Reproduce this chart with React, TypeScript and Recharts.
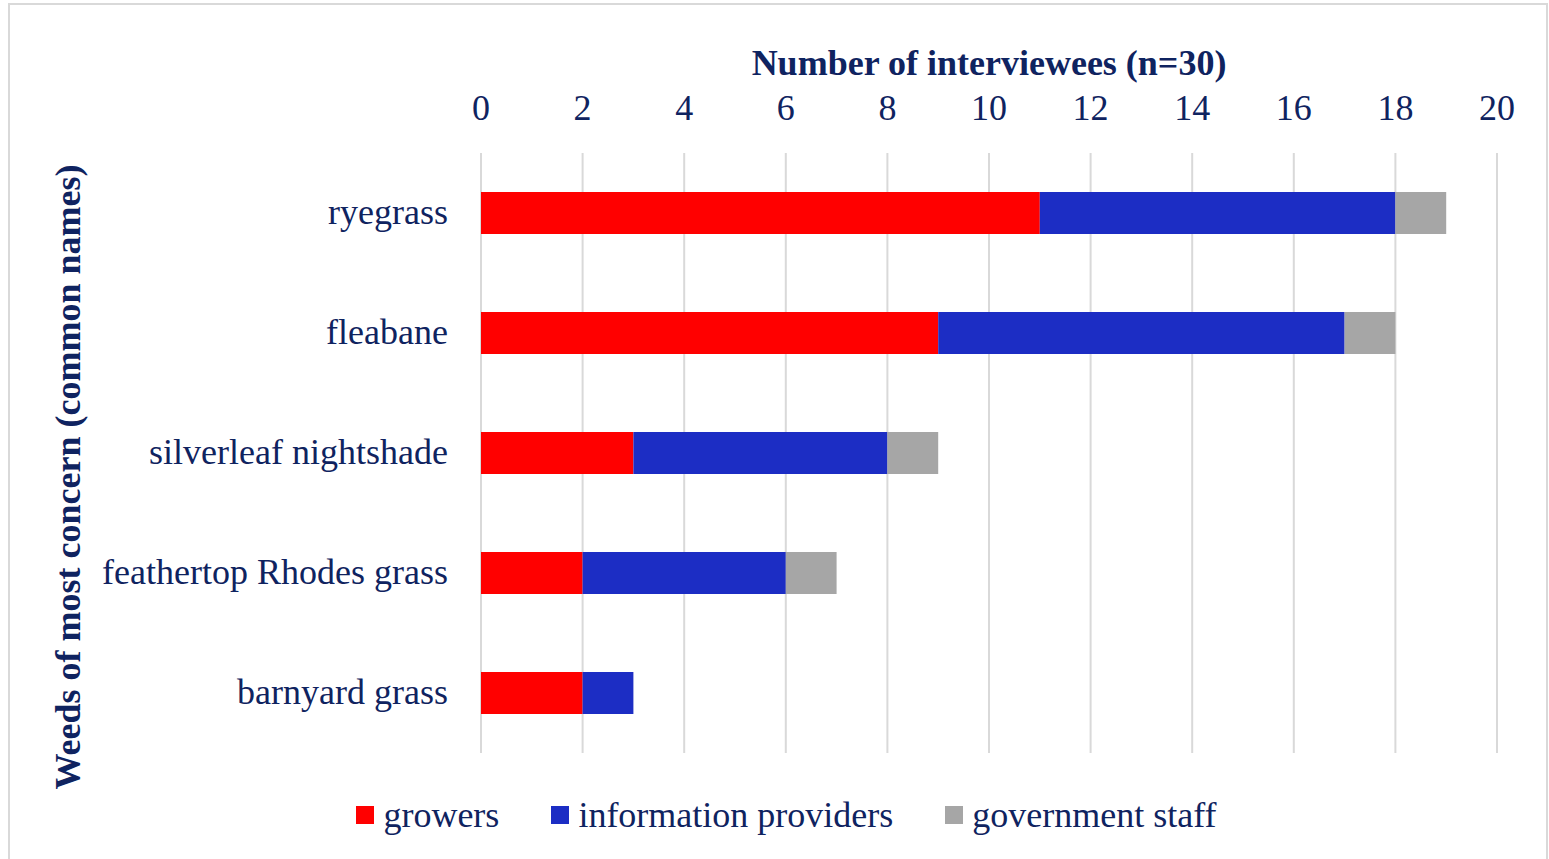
import { BarChart, Bar, XAxis, YAxis, CartesianGrid, Legend, Label } from 'recharts'

const weeds = ['ryegrass', 'fleabane', 'silverleaf nightshade', 'feathertop Rhodes grass', 'barnyard grass']
const growers = [11, 9, 3, 2, 2]
const infoProviders = [7, 8, 5, 4, 1]
const govStaff = [1, 1, 1, 1, 0]
const xTicks = [0, 2, 4, 6, 8, 10, 12, 14, 16, 18, 20]

const NAVY = '#0f2360'
const FONT = '"Liberation Serif", "Times New Roman", serif'

const SERIES = [
  { key: 'growers', color: '#ff0000' },
  { key: 'information providers', color: '#1c2dc4' },
  { key: 'government staff', color: '#a6a6a6' },
]

const data = weeds.map((w, i) => ({
  weed: w,
  growers: growers[i],
  'information providers': infoProviders[i],
  'government staff': govStaff[i],
}))

// keep series order (recharts sorts legend payload by name)
const renderLegend = () => (
  <div style={{ display: 'flex', justifyContent: 'center', alignItems: 'center', height: 40, gap: 52, paddingLeft: 24 }}>
    {SERIES.map(s => (
      <div key={s.key} style={{ display: 'flex', alignItems: 'center' }}>
        <span style={{ display: 'inline-block', width: 18, height: 18, background: s.color, marginRight: 9 }} />
        <span style={{ fontSize: 36, color: NAVY, fontFamily: FONT, lineHeight: 1 }}>{s.key}</span>
      </div>
    ))}
  </div>
)

export default function App() {
  return (
    <div style={{ position: 'absolute', left: 0, top: 0, width: 1549, height: 859, background: '#fff', fontFamily: FONT }}>
      <div style={{ position: 'absolute', left: 8, top: 3, width: 1536, height: 856, border: '2px solid #d9d9d9', boxSizing: 'content-box' }} />
      <BarChart
        width={1549}
        height={859}
        data={data}
        layout="vertical"
        margin={{ top: 0, right: 52, left: 0, bottom: 66 }}
        barSize={42}
        style={{ position: 'absolute', left: 0, top: 0 }}
      >
        <CartesianGrid horizontal={false} stroke="#d9d9d9" strokeWidth={2} />
        <XAxis
          type="number"
          orientation="top"
          domain={[0, 20]}
          ticks={xTicks}
          height={153}
          axisLine={false}
          tickLine={false}
          tickSize={0}
          tickMargin={33}
          tick={{ fill: NAVY, fontSize: 36, fontFamily: FONT }}
        >
          <Label
            value="Number of interviewees (n=30)"
            position="insideTop"
            offset={49}
            style={{ fill: NAVY, fontSize: 36, fontWeight: 'bold', fontFamily: FONT }}
          />
        </XAxis>
        <YAxis
          type="category"
          dataKey="weed"
          width={481}
          axisLine={false}
          tickLine={false}
          tickSize={0}
          tickMargin={33}
          tick={{ fill: NAVY, fontSize: 36, fontFamily: FONT, dy: -2 }}
        />
        <Legend content={renderLegend} verticalAlign="bottom" wrapperStyle={{ left: 0, width: 1549, bottom: 24 }} />
        {SERIES.map(s => (
          <Bar key={s.key} dataKey={s.key} stackId="a" fill={s.color} isAnimationActive={false} />
        ))}
      </BarChart>
      <div
        style={{
          position: 'absolute', left: 68, top: 477, transform: 'translate(-50%, -50%) rotate(-90deg)',
          whiteSpace: 'nowrap', fontSize: 36, fontWeight: 'bold', color: NAVY, fontFamily: FONT, lineHeight: 1,
        }}
      >
        Weeds of most concern (common names)
      </div>
    </div>
  )
}
